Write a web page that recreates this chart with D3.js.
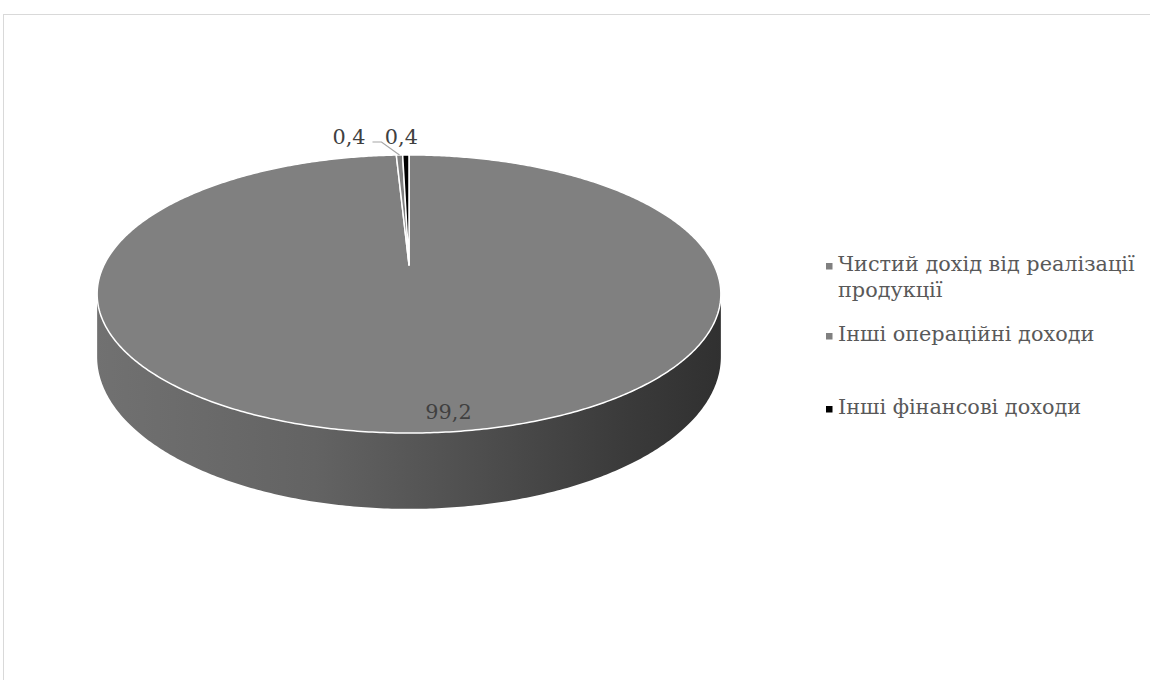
<!DOCTYPE html>
<html>
<head>
<meta charset="utf-8">
<script src="https://cdn.jsdelivr.net/npm/d3@7"></script>
<style>
  html, body { margin: 0; padding: 0; background: #fff; }
  svg { display: block; }
  text { font-family: "DejaVu Serif", "Liberation Serif", serif; }
</style>
</head>
<body>
<svg id="chart" width="1150" height="680"></svg>
<script>
// Income structure, %
const categories = [
  "Чистий дохід від реалізації продукції",
  "Інші операційні доходи",
  "Інші фінансові доходи"
];
const values = [99.2, 0.4, 0.4];
const valueLabels = ["99,2", "0,4", "0,4"];
const colors = ["#808080", "#808080", "#000000"];

const svg = d3.select("#chart");

// chart area frame
svg.append("rect")
  .attr("x", 3.5).attr("y", 14.5)
  .attr("width", 1200).attr("height", 700)
  .attr("fill", "#fff").attr("stroke", "#d9d9d9").attr("stroke-width", 1);

// 3D disc geometry (perspective-tilted)
const CX = 409, CY = 265;   // projected centre of the top face
const R = 305;              // horizontal radius
const RY = 133;             // vertical radius before perspective
const A = 0.2086;           // perspective strength
const H = 60;               // disc thickness

function proj(theta, f, z) {
  const u = f * Math.sin(theta), v = -f * Math.cos(theta);
  const s = 1 / (1 - A * v);
  return [CX + R * u * s, CY + (RY * v + z) * s];
}

const pie = d3.pie().sort(null).value(d => d)
  .startAngle(0).endAngle(2 * Math.PI);
const arcs = pie(values);

function rimPoints(a0, a1, z) {
  const n = Math.max(2, Math.ceil(Math.abs(a1 - a0) / 0.01));
  return d3.range(n + 1).map(i => proj(a0 + (a1 - a0) * i / n, 1, z));
}

const line = d3.line();

// side shading
const defs = svg.append("defs");
const grad = defs.append("linearGradient")
  .attr("id", "sideShade").attr("gradientUnits", "userSpaceOnUse")
  .attr("x1", CX - R * 1.03).attr("x2", CX + R * 1.03)
  .attr("y1", 0).attr("y2", 0);
[[0, "#717171"], [0.35, "#636363"], [0.6, "#4f4f4f"], [0.85, "#3a3a3a"], [1, "#303030"]]
  .forEach(([o, c]) => grad.append("stop").attr("offset", o).attr("stop-color", c));

// front side of the disc between silhouette angles
const thR = Math.acos(-A), thL = 2 * Math.PI - thR;
arcs.forEach(a => {
  const s0 = Math.max(a.startAngle, thR), s1 = Math.min(a.endAngle, thL);
  if (s1 <= s0) return;
  const top = rimPoints(s0, s1, 0);
  const bottom = rimPoints(s1, s0, H);
  svg.append("path")
    .attr("d", line(top.concat(bottom)) + "Z")
    .attr("fill", a.index === 0 ? "url(#sideShade)" : d3.color(colors[a.index]).darker(0.8))
    .attr("stroke", "none");
});

// top faces
svg.append("g").selectAll("path")
  .data(arcs)
  .join("path")
  .attr("d", a => line([proj(0, 0, 0)].concat(rimPoints(a.startAngle, a.endAngle, 0))) + "Z")
  .attr("fill", (a, i) => colors[i])
  .attr("stroke", "#fff")
  .attr("stroke-width", 1.5)
  .attr("stroke-linejoin", "round");

// value labels
const labelG = svg.append("g")
  .attr("font-size", 20.8).attr("fill", "#404040");

// large slice: label inside, near the front edge
{
  const a = arcs[0];
  const m = (a.startAngle + a.endAngle) / 2;
  const p = proj(m, 0.9, 0);
  labelG.append("text")
    .attr("x", p[0] + 31).attr("y", p[1] + 7)
    .attr("text-anchor", "middle")
    .text(valueLabels[0]);
}

// small slices: labels above the rim
{
  const a = arcs[1];
  const m = (a.startAngle + a.endAngle) / 2;
  const p = proj(m, 1, 0);
  labelG.append("text")
    .attr("x", p[0] - 34).attr("y", p[1] - 11)
    .attr("text-anchor", "end")
    .text(valueLabels[1]);
  svg.append("path")
    .attr("d", line([[p[0] - 27, p[1] - 13], [p[0] - 18, p[1] - 13], p]))
    .attr("fill", "none").attr("stroke", "#a6a6a6").attr("stroke-width", 1.2);
}
{
  const a = arcs[2];
  const m = (a.startAngle + a.endAngle) / 2;
  const p = proj(m, 1, 0);
  labelG.append("text")
    .attr("x", p[0] - 21).attr("y", p[1] - 11)
    .attr("text-anchor", "start")
    .text(valueLabels[2]);
}

// legend
const legendX = 826, textX = 838, maxW = 305;
const legendY = [271, 341, 414];
const legend = svg.append("g").attr("font-size", 20.8).attr("fill", "#595959");
categories.forEach((name, i) => {
  legend.append("rect")
    .attr("x", legendX).attr("y", legendY[i] - 8)
    .attr("width", 6.5).attr("height", 6.5)
    .attr("fill", colors[i]);
  const t = legend.append("text").attr("x", textX).attr("y", legendY[i]);
  // wrap words into lines that fit the legend width
  const words = name.split(" ");
  let lineWords = [], lineNo = 0;
  let span = t.append("tspan").attr("x", textX).attr("y", legendY[i]);
  words.forEach(w => {
    lineWords.push(w);
    span.text(lineWords.join(" "));
    if (span.node().getComputedTextLength() > maxW && lineWords.length > 1) {
      lineWords.pop();
      span.text(lineWords.join(" "));
      lineWords = [w];
      lineNo++;
      span = t.append("tspan").attr("x", textX)
        .attr("y", legendY[i] + lineNo * 26).text(w);
    }
  });
});
</script>
</body>
</html>
